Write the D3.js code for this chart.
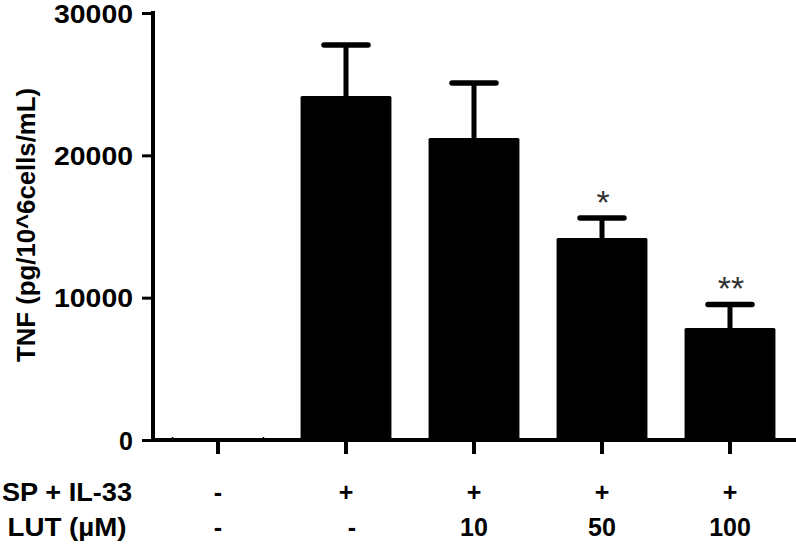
<!DOCTYPE html>
<html>
<head>
<meta charset="utf-8">
<script src="https://cdn.jsdelivr.net/npm/d3@7"></script>
<style>
  html, body { margin: 0; padding: 0; background: #fff; }
  text { font-family: "Liberation Sans", Arial, sans-serif; font-weight: bold; }
</style>
</head>
<body>
<svg id="chart" width="796" height="546"></svg>
<script>
// ---- data ----
const groups = ["G1", "G2", "G3", "G4", "G5"];
const spIl33 = ["-", "+", "+", "+", "+"];
const lut = ["-", "-", "10", "50", "100"];
const tnfMean = [0, 24170, 21220, 14190, 7870];
const tnfErr = [0, 3580, 3860, 1410, 1650];
const signif = ["", "", "", "*", "**"];
const yTicks = [0, 10000, 20000, 30000];
const rowLabels = ["SP + IL-33", "LUT (\u00B5M)"];
const yTitle = "TNF (pg/10^6cells/mL)";

// ---- layout ----
const svg = d3.select("#chart");
const x = d3.scaleBand().domain(groups).range([154, 794]).paddingInner(0.29).paddingOuter(0.145);
const y = d3.scaleLinear().domain([0, 30000]).range([440, 13]);
const axisX0 = 153;

// bars
svg.selectAll("rect.bar").data(groups).enter().append("rect")
  .attr("class", "bar")
  .attr("x", d => x(d))
  .attr("width", x.bandwidth())
  .attr("y", (d, i) => y(tnfMean[i]))
  .attr("height", (d, i) => y(0) - y(tnfMean[i]))
  .attr("rx", 1.5)
  .attr("fill", "#000");

// zero-height bar stubs
groups.forEach((g, i) => {
  if (tnfMean[i] === 0) {
    [x(g), x(g) + x.bandwidth()].forEach(px => {
      svg.append("line").attr("x1", px).attr("x2", px).attr("y1", y(0)).attr("y2", y(0) - 3)
        .attr("stroke", "#000").attr("stroke-width", 1.5);
    });
  }
});

// error bars
groups.forEach((g, i) => {
  if (tnfErr[i] > 0) {
    const cx = x(g) + x.bandwidth() / 2;
    const top = y(tnfMean[i] + tnfErr[i]);
    svg.append("line").attr("x1", cx).attr("x2", cx)
      .attr("y1", y(tnfMean[i])).attr("y2", top)
      .attr("stroke", "#000").attr("stroke-width", 5);
    svg.append("line").attr("x1", cx - 22).attr("x2", cx + 22)
      .attr("y1", top).attr("y2", top)
      .attr("stroke", "#000").attr("stroke-width", 5.5).attr("stroke-linecap", "round");
    if (signif[i]) {
      svg.append("text").attr("x", cx + 1).attr("y", top - 4)
        .attr("text-anchor", "middle").attr("font-size", 34)
        .style("font-weight", "normal")
        .attr("fill", "#333")
        .text(signif[i]);
    }
  }
});

// y axis
const yAxis = d3.axisLeft(y).tickValues(yTicks).tickFormat(d3.format("d")).tickSize(11).tickPadding(9);
const gy = svg.append("g").attr("transform", `translate(${axisX0},0)`).call(yAxis);
gy.select(".domain").attr("stroke", "#000").attr("stroke-width", 4)
  .attr("d", `M0,${y(30000) - 2}H0V${y(0) + 2}`);
gy.selectAll(".tick line").attr("stroke", "#000").attr("stroke-width", 3);
gy.selectAll(".tick text").attr("font-size", 25).attr("fill", "#000")
  .attr("font-family", "'Liberation Sans', Arial, sans-serif").attr("font-weight", "bold")
  .attr("dy", "0.36em")
  .attr("textLength", 79).attr("lengthAdjust", "spacingAndGlyphs")
  .each(function(d) { if (d === 0) d3.select(this).attr("textLength", null); });

// x axis
const xAxis = d3.axisBottom(x).tickSize(14).tickFormat("");
const gx = svg.append("g").attr("transform", `translate(0,${y(0)})`).call(xAxis);
gx.select(".domain").attr("stroke", "#000").attr("stroke-width", 4)
  .attr("d", `M${axisX0 - 2},0H796`);
gx.selectAll(".tick line").attr("stroke", "#000").attr("stroke-width", 4);

// category rows
const rowY = [501, 536];
[spIl33, lut].forEach((row, r) => {
  svg.append("text").attr("x", 67).attr("y", rowY[r])
    .attr("text-anchor", "middle").attr("font-size", 25).attr("fill", "#000")
    .attr("textLength", r === 0 ? 130 : 119).attr("lengthAdjust", "spacingAndGlyphs")
    .text(rowLabels[r]);
  svg.selectAll(null).data(groups).enter().append("text")
    .attr("x", (d, i) => x(d) + x.bandwidth() / 2 + (r === 1 && i === 1 ? 6 : 0))
    .attr("y", rowY[r])
    .attr("text-anchor", "middle").attr("font-size", 25).attr("fill", "#000")
    .text((d, i) => row[i]);
});

// y title
svg.append("text")
  .attr("transform", `translate(35,225) rotate(-90)`)
  .attr("text-anchor", "middle").attr("font-size", 25).attr("fill", "#000")
  .attr("textLength", 274).attr("lengthAdjust", "spacingAndGlyphs")
  .text(yTitle);
</script>
</body>
</html>
